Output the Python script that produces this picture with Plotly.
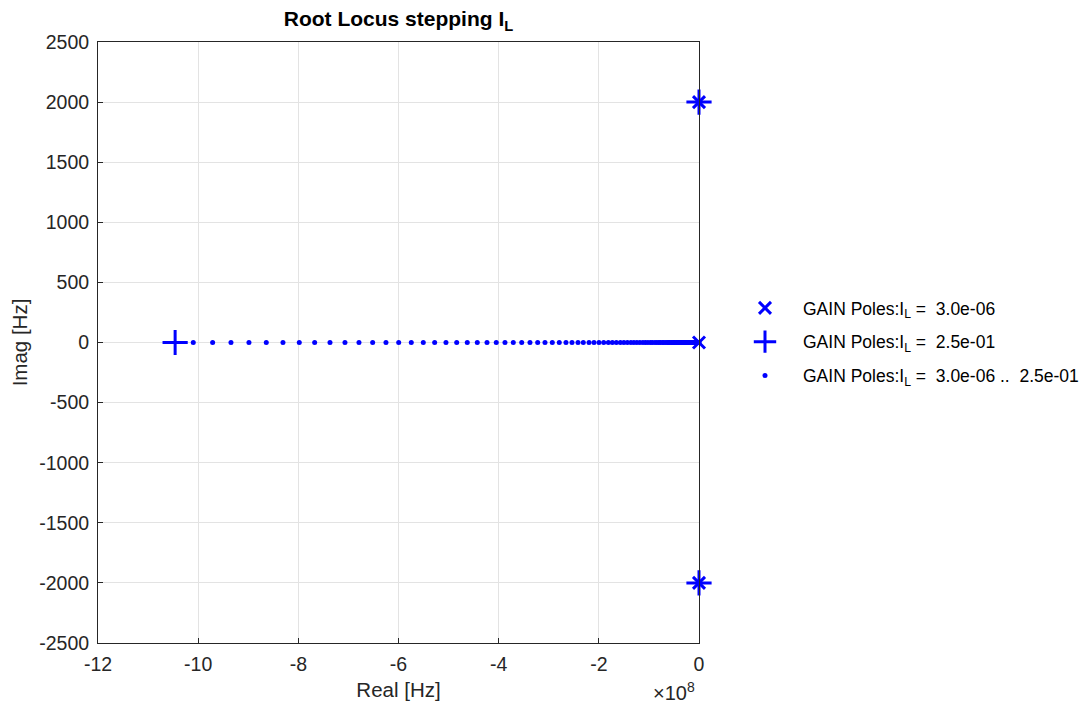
import plotly.graph_objects as go

# ---- data (real parts in Hz, imag parts in Hz) ----
start_re = [0.0, 0.0, 0.0]
start_im = [2000.0, -2000.0, 0.0]

end_re = [0.0, 0.0, -10.46e8]
end_im = [2000.0, -2000.0, 0.0]

# intermediate real-axis pole positions, in units of 1e8 Hz
path_re_e8 = [
    -10.098, -9.711, -9.345, -8.986, -8.640, -8.307, -7.981, -7.674, -7.368,
    -7.069, -6.789, -6.516, -6.250, -5.996, -5.745, -5.505, -5.278, -5.052,
    -4.838, -4.627, -4.427, -4.233, -4.048, -3.874, -3.708, -3.540, -3.375,
    -3.221, -3.075, -2.929, -2.790, -2.656, -2.536, -2.416, -2.310, -2.196,
    -2.097, -1.997, -1.903, -1.81, -1.73, -1.65, -1.57, -1.50, -1.43, -1.36,
    -1.30, -1.24, -1.18, -1.12, -1.07, -1.02, -0.97, -0.93, -0.88, -0.84,
    -0.80, -0.77, -0.73, -0.70, -0.66, -0.63, -0.60, -0.58, -0.55, -0.52,
    -0.50, -0.48, -0.45, -0.43, -0.41, -0.39, -0.38, -0.36, -0.34, -0.33,
    -0.31, -0.30, -0.28, -0.27, -0.26, -0.24, -0.23, -0.22, -0.21, -0.20,
    -0.19, -0.18, -0.17, -0.16, -0.15, -0.14, -0.13, -0.12, -0.11, -0.10,
    -0.09, -0.08, -0.07, -0.06, -0.05, -0.04, -0.03, -0.02, -0.01, -0.005, 0.0,
]
path_im = [0.0] * len(path_re_e8)
cplx_re = [0.0, 0.0]
cplx_im = [2000.0, -2000.0]

x_ticks = [-12, -10, -8, -6, -4, -2, 0]
y_ticks = [-2500, -2000, -1500, -1000, -500, 0, 500, 1000, 1500, 2000, 2500]

BLUE = "#0000ff"
TXT = "#262626"
FONT = "Liberation Sans, Arial, sans-serif"

dots_x = [v * 1e8 for v in path_re_e8] + cplx_re
dots_y = path_im + cplx_im

fig = go.Figure()
fig.add_trace(go.Scatter(
    x=start_re, y=start_im, mode="markers", cliponaxis=False,
    name="GAIN Poles:I<sub>L</sub> =  3.0e-06", legendgroup="a",
    marker=dict(symbol="x-thin", size=12, color=BLUE,
                line=dict(color=BLUE, width=3)),
))
fig.add_trace(go.Scatter(
    x=end_re, y=end_im, mode="markers", cliponaxis=False,
    name="GAIN Poles:I<sub>L</sub> =  2.5e-01", legendgroup="b",
    marker=dict(symbol="cross-thin", size=18, color=BLUE,
                line=dict(color=BLUE, width=3)),
))
fig.add_trace(go.Scatter(
    x=dots_x, y=dots_y, mode="markers", cliponaxis=False,
    name="GAIN Poles:I<sub>L</sub> =  3.0e-06 ..  2.5e-01", legendgroup="c",
    marker=dict(symbol="circle", size=5, color=BLUE),
))

axis_common = dict(
    showgrid=True, gridcolor="#e3e3e3", gridwidth=1,
    zeroline=False, showline=True, linecolor=TXT, linewidth=1,
    mirror=True, ticks="inside", ticklen=5, tickcolor=TXT,
    tickfont=dict(family=FONT, size=19.5, color=TXT),
    automargin=False,
)

fig.update_xaxes(
    range=[-12e8, 0], tickvals=[v * 1e8 for v in x_ticks],
    ticktext=[str(v) for v in x_ticks], ticklabelstandoff=4,
    title=dict(text="Real [Hz]", font=dict(family=FONT, size=20.5, color=TXT), standoff=8),
    **axis_common,
)
fig.update_yaxes(
    range=[-2500, 2500], tickvals=y_ticks, ticktext=[str(v) for v in y_ticks],
    ticklabelstandoff=4,
    title=dict(text="Imag [Hz]", font=dict(family=FONT, size=20.5, color=TXT), standoff=6),
    **axis_common,
)

W, H = 1072, 697
fig.update_layout(
    width=W, height=H,
    margin=dict(l=90, r=381, t=34, b=62),
    paper_bgcolor="white", plot_bgcolor="white",
    font=dict(family=FONT, color=TXT),
    title=dict(text="<b>Root Locus stepping I<sub>L</sub></b>",
               x=(90 + 300.5) / W, xanchor="center",
               y=1 - 11 / H, yanchor="middle",
               font=dict(family=FONT, size=21, color="black")),
    legend=dict(xref="container", yref="container",
                x=(727 - 8) / W, xanchor="left",
                y=1 - (342 - 8) / H, yanchor="middle",
                font=dict(family=FONT, size=17.5, color="black"),
                bgcolor="rgba(0,0,0,0)", itemsizing="trace",
                itemwidth=66, tracegroupgap=8),
    showlegend=True,
)

fig.add_annotation(
    x=0.997, xref="paper", xanchor="right", y=-0.081, yref="paper", yanchor="middle",
    text="\u00d710<sup>8</sup>", showarrow=False,
    font=dict(family=FONT, size=20, color=TXT),
)

fig.write_html("out.html")
